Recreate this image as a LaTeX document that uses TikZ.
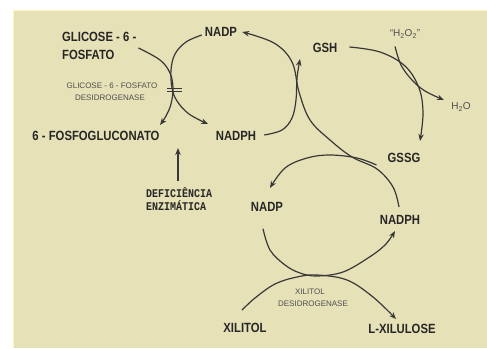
\documentclass[tikz,border=0pt]{standalone}
\usepackage{fontspec}
\setmainfont{Liberation Sans}
\newfontfamily\monob{Liberation Mono}
\usetikzlibrary{arrows.meta}
\definecolor{bgc}{HTML}{E7E1B8}
\definecolor{edgec}{HTML}{FFF5C4}
\definecolor{txt}{HTML}{262626}
\definecolor{lnc}{HTML}{383838}
\definecolor{enzc}{HTML}{4E4E4E}
\newcommand{\tallt}[1]{\scalebox{1}[1.18]{#1}}
\tikzset{
  lbl/.style={font=\bfseries\fontsize{11.3}{14}\selectfont, text=txt, inner sep=0pt},
  enz/.style={font=\fontsize{8}{10}\selectfont, text=enzc, inner sep=0pt},
  chem/.style={font=\fontsize{10}{12}\selectfont, text=enzc, inner sep=0pt},
  defl/.style={font=\monob\bfseries\fontsize{10}{12}\selectfont, text=txt, inner sep=0pt, anchor=west},
  conn/.style={draw=lnc, line width=1.2pt, -{Stealth[length=7pt,width=5.5pt]}},
  plainconn/.style={draw=lnc, line width=1.2pt},
}
\begin{document}
\begin{tikzpicture}[x=1pt,y=-1pt]
\useasboundingbox (0,0) rectangle (487,348);
\fill[white] (0,0) rectangle (487,348);
\fill[bgc] (13,10) rectangle (487,348);
\draw[edgec, line width=1pt] (13.5,348) -- (13.5,10.5) -- (487,10.5);

% labels
\node[lbl, anchor=west] (g6pa) at (62,37) {\tallt{GLICOSE - 6 -}};
\node[lbl, anchor=west] (g6pb) at (62,55) {\tallt{FOSFATO}};
\node[lbl] (nadpA) at (221,32) {\tallt{NADP}};
\node[enz] (enzA1) at (112,86) {GLICOSE - 6 - FOSFATO};
\node[enz] (enzA2) at (110,98) {DESIDROGENASE};
\node[lbl] (fg) at (96,136) {\tallt{6 - FOSFOGLUCONATO}};
\node[lbl] (nadphA) at (236,136) {\tallt{NADPH}};
\node[defl] (defa) at (146,193) {\tallt{DEFICIÊNCIA}};
\node[defl] (defb) at (146,206) {\tallt{ENZIMÁTICA}};
\node[lbl] (gsh) at (325,48) {\tallt{GSH}};
\node[chem] (h2o2) at (405,34) {“H\textsubscript{2}O\textsubscript{2}”};
\node[chem] (h2o) at (461,107) {H\textsubscript{2}O};
\node[lbl] (gssg) at (404,158) {\tallt{GSSG}};
\node[lbl] (nadpB) at (267,207) {\tallt{NADP}};
\node[lbl] (nadphB) at (400,220) {\tallt{NADPH}};
\node[enz] (enzB1) at (310,292) {XILITOL};
\node[enz] (enzB2) at (313,304) {DESIDROGENASE};
\node[lbl] (xil) at (245,328) {\tallt{XILITOL}};
\node[lbl] (lxil) at (402,329) {\tallt{L-XILULOSE}};

% connectors
\draw[conn] plot[smooth, tension=0.6] coordinates {([shift={(2,11)}]g6pa.east) (160,60) (170,73) (173,88) (171,104) (166,116) (160,125)};
\draw[conn] plot[smooth, tension=0.6] coordinates {([shift={(-3,3)}]nadpA.west) (186,42) (175,54) (171,70) (172,88) (177,101) (189,114) (208,124)};
\draw[conn] plot[smooth, tension=0.6] coordinates {(399,207) (393,187) (377,169) (352,157) (330,140) (310,120) (299,92) (292,62) (274,43) ([shift={(5,0)}]nadpA.east)};
\draw[conn] plot[smooth, tension=0.6] coordinates {([shift={(8,-1)}]nadphA.east) (282,130) (292,118) (296,100) (297,78) (300,59)};
\draw[conn] plot[smooth, tension=0.6] coordinates {([shift={(12,-1)}]gsh.east) (380,52) (405,66) (419,88) (423,113) (420,141)};
\draw[conn] plot[smooth, tension=0.6] coordinates {([shift={(-10,8)}]h2o2.south) (401,65) (412,80) (425,91) (444,100)};
\draw[conn] plot[smooth, tension=0.6] coordinates {([shift={(-11,7)}]gssg.west) (357,158) (330,155) (307,158) (285,168) (270,188)};
\draw[conn] plot[smooth, tension=0.6] coordinates {([shift={(-4,17)}]nadpB.south) (270,250) (285,265) (300,273) (317,276) (343,272) (368,258) (385,245) (395,231)};
\draw[conn] plot[smooth, tension=0.6] coordinates {([shift={(-3,-13)}]xil.north) (255,298) (275,284) (297,277) (317,275) (347,280) (373,297) (396,319)};
\coordinate (defBot) at (178,181);
\coordinate (defTop) at (178,148);
\draw[conn] (defBot) -- (defTop);
% enzyme block bars
\draw[plainconn, line width=0.9pt] (167,88) -- (182,88);
\draw[plainconn, line width=0.9pt] (167,91.5) -- (182,91.5);
\end{tikzpicture}
\end{document}
